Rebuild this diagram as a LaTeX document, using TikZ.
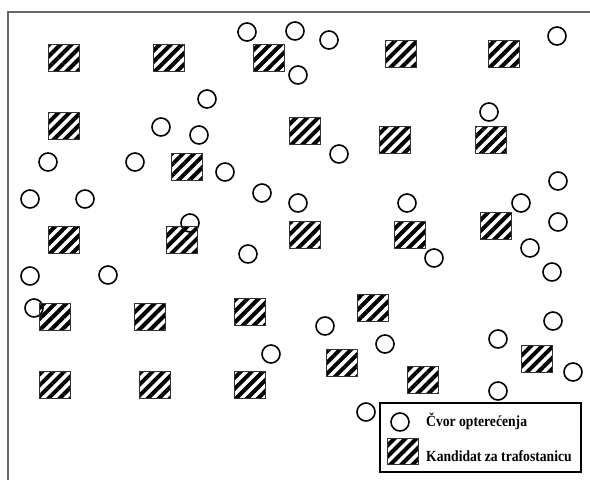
\documentclass[tikz,border=0pt]{standalone}
\usepackage{fontspec}
\newfontfamily\legendfont[FakeStretch=0.88]{Liberation Serif}
\usetikzlibrary{patterns.meta}

\tikzset{
    cvor/.style={circle,draw,line width=1.6pt,minimum size=18pt,inner sep=0pt},
    kandidat/.style={rectangle,draw=black!80,line width=0.8pt,inner sep=0pt,
        minimum width=31pt,minimum height=27pt,
        pattern={Lines[angle=45,distance=7.8pt,line width=4pt]}},
    legtext/.style={anchor=base west,inner sep=0pt,font=\legendfont\bfseries\fontsize{15.5}{18}\selectfont}
}

\begin{document}
\begin{tikzpicture}[x=1pt,y=-1pt]
        \useasboundingbox (0,0) rectangle (590,480);
        \draw[line width=1.3pt,black!60] (8,480) -- (8,12) -- (590,12);
        % cvorovi opterecenja
        \foreach \x/\y [count=\i] in {247/32,295/31,329/40,557/36,298/75,207/99,
            161/127,199/135,489/112,48/162,135/162,225/172,339/154,30/199,85/199,
            262/193,298/203,407/203,521/203,558/181,558/222,190/223,248/254,
            434/258,530/248,552/272,30/276,108/275,34/308,325/326,385/344,
            498/339,553/321,271/354,573/372,498/391,366/412}
            \node[cvor] (c\i) at (\x,\y) {};
        % kandidati za trafostanicu
        \foreach \x/\y [count=\i] in {64/58,169/58,269/58,401/54,504/54,
            64/126,305/131,395/140,491/140,187/167,
            64/240,182/240,305/235,410/235,496/226,
            55/317,150/317,250/312,373/308,342/363,423/380,537/359,
            55/385,155/385,250/385}
            \node[kandidat] (k\i) at (\x,\y) {};
        % legenda
        \node[draw,line width=1.2pt,minimum width=201pt,minimum height=69pt,
            inner sep=0pt,fill=white] (leg) at (480.5,437.5) {};
        \node[cvor] (lc) at (400,422) {};
        \node[kandidat,minimum height=26pt] (lk) at (402.5,451) {};
        \node[legtext] (lt1) at (426,426) {Čvor opterećenja};
        \node[legtext] (lt2) at (426,461) {Kandidat za trafostanicu};
    \end{tikzpicture}
\end{document}
